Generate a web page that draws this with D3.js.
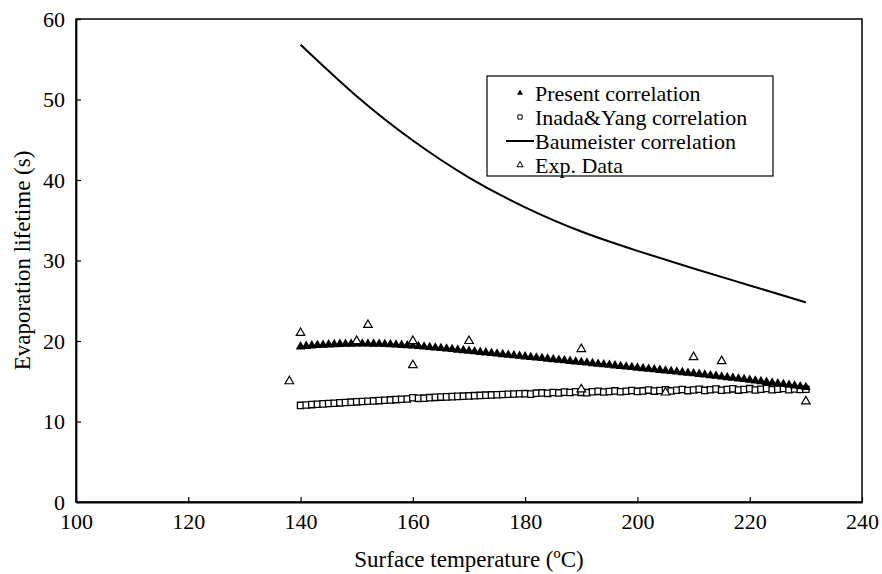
<!DOCTYPE html>
<html>
<head>
<meta charset="utf-8">
<script src="https://cdn.jsdelivr.net/npm/d3@7"></script>
<style>
    body { margin: 0; background: #fff; }
    svg text { font-family: "Liberation Serif", "Times New Roman", serif; fill: #000; }
</style>
</head>
<body>
<svg id="chart" width="882" height="574"></svg>
<script>
// temperatures for the two correlation series: one point per degree, 140..230
const corrStart = 140;
const corrEnd = 230;

const presentValues = [
    19.30, 19.36, 19.42, 19.47, 19.51, 19.55, 19.58, 19.61, 19.63, 19.64,
    19.65, 19.65, 19.65, 19.64, 19.62, 19.60, 19.57, 19.53, 19.49, 19.45,
    19.40, 19.35, 19.29, 19.23, 19.17, 19.10, 19.04, 18.97, 18.90, 18.83,
    18.76, 18.69, 18.62, 18.55, 18.48, 18.41, 18.34, 18.27, 18.20, 18.13,
    18.06, 17.99, 17.92, 17.85, 17.78, 17.71, 17.64, 17.57, 17.50, 17.43,
    17.36, 17.29, 17.22, 17.15, 17.08, 17.01, 16.94, 16.87, 16.80, 16.73,
    16.66, 16.59, 16.52, 16.45, 16.38, 16.31, 16.24, 16.17, 16.10, 16.03,
    15.96, 15.88, 15.80, 15.72, 15.64, 15.56, 15.48, 15.40, 15.32, 15.24,
    15.16, 15.07, 14.98, 14.89, 14.80, 14.71, 14.62, 14.53, 14.44, 14.35,
    14.26
];

const inadaValues = [
    12.00, 12.05, 12.10, 12.14, 12.19, 12.23, 12.27, 12.32, 12.36, 12.40,
    12.44, 12.48, 12.52, 12.56, 12.60, 12.64, 12.68, 12.72, 12.76, 12.80,
    12.95, 12.88, 12.90, 12.96, 13.00, 13.03, 13.06, 13.09, 13.12, 13.15,
    13.18, 13.21, 13.24, 13.27, 13.30, 13.33, 13.36, 13.39, 13.41, 13.44,
    13.46, 13.40, 13.52, 13.55, 13.50, 13.60, 13.55, 13.65, 13.60, 13.70,
    13.62, 13.58, 13.70, 13.75, 13.66, 13.72, 13.80, 13.70, 13.76, 13.85,
    13.74, 13.80, 13.90, 13.78, 13.85, 13.95, 13.80, 13.88, 13.98, 13.84,
    13.92, 14.00, 13.86, 13.95, 14.04, 13.88, 13.96, 14.06, 13.90, 13.98,
    14.08, 13.92, 14.00, 14.10, 13.94, 14.02, 14.10, 13.96, 14.04, 13.98,
    14.00
];

const baumTemps = [140, 150, 160, 170, 180, 190, 200, 210, 220, 230];
const baumValues = [56.8, 50.4, 44.9, 40.3, 36.6, 33.6, 31.2, 29.0, 26.9, 24.8];

const expTemps = [138, 140, 150, 152, 160, 160, 170, 190, 190, 205, 210, 215, 230];
const expValues = [15.0, 21.0, 20.0, 22.0, 20.0, 17.0, 20.0, 19.0, 14.0, 13.6, 18.0, 17.5, 12.5];

const xTicks = [100, 120, 140, 160, 180, 200, 220, 240];
const yTicks = [0, 10, 20, 30, 40, 50, 60];

const legendLabels = ['Present correlation', 'Inada&Yang correlation', 'Baumeister correlation', 'Exp. Data'];

const corrTemps = d3.range(corrStart, corrEnd + 1);

const margin = {left: 76, top: 19, right: 20, bottom: 72};
const width = 882 - margin.left - margin.right;
const height = 574 - margin.top - margin.bottom;

const svg = d3.select('#chart');
const g = svg.append('g').attr('transform', `translate(${margin.left},${margin.top})`);

const x = d3.scaleLinear().domain([100, 240]).range([0, width]);
const y = d3.scaleLinear().domain([0, 60]).range([height, 0]);

// frame (top + right sides have no ticks)
g.append('rect')
    .attr('width', width)
    .attr('height', height)
    .attr('fill', 'none')
    .attr('stroke', '#000')
    .attr('stroke-width', 1.5);

const xAxis = g.append('g')
    .attr('transform', `translate(0,${height})`)
    .call(d3.axisBottom(x).tickValues(xTicks).tickSizeInner(-5).tickSizeOuter(0).tickPadding(12));
const yAxis = g.append('g')
    .call(d3.axisLeft(y).tickValues(yTicks).tickSizeInner(-5).tickSizeOuter(0).tickPadding(11));

[xAxis, yAxis].forEach((ax) => {
    ax.select('.domain').attr('stroke-width', 1.8);
    ax.selectAll('.tick line').attr('stroke-width', 1.2);
    ax.selectAll('.tick text')
        .style('font-family', '"Liberation Serif", "Times New Roman", serif')
        .style('font-size', '22px')
        .attr('fill', '#000');
});
xAxis.selectAll('.tick text').attr('dy', '0.7em');

// Baumeister curve
const line = d3.line()
    .x((d, i) => x(baumTemps[i]))
    .y((d) => y(d))
    .curve(d3.curveNatural);

g.append('path')
    .datum(baumValues)
    .attr('d', line)
    .attr('fill', 'none')
    .attr('stroke', '#000')
    .attr('stroke-width', 2);

const triFilled = d3.symbol().type(d3.symbolTriangle).size(40);
const triOpen = d3.symbol().type(d3.symbolTriangle).size(32);
const square = d3.symbol().type(d3.symbolSquare).size(40);

// Inada & Yang open squares
g.append('g')
    .selectAll('path')
    .data(inadaValues)
    .join('path')
    .attr('d', square)
    .attr('transform', (d, i) => `translate(${x(corrTemps[i])},${y(d)})`)
    .attr('fill', '#fff')
    .attr('stroke', '#000')
    .attr('stroke-width', 1.3);

// present correlation filled triangles
g.append('g')
    .selectAll('path')
    .data(presentValues)
    .join('path')
    .attr('d', triFilled)
    .attr('transform', (d, i) => `translate(${x(corrTemps[i])},${y(d)})`)
    .attr('fill', '#000');

// experimental data open triangles
g.append('g')
    .selectAll('path')
    .data(expValues)
    .join('path')
    .attr('d', triOpen)
    .attr('transform', (d, i) => `translate(${x(expTemps[i])},${y(d)})`)
    .attr('fill', '#fff')
    .attr('stroke', '#000')
    .attr('stroke-width', 1.2);

// legend
const legend = svg.append('g').attr('transform', 'translate(487,76)');
legend.append('rect')
    .attr('width', 286)
    .attr('height', 100)
    .attr('fill', '#fff')
    .attr('stroke', '#000')
    .attr('stroke-width', 1.2);

const rowY = [17, 41, 65, 89];
legendLabels.forEach((label, i) => {
    const row = legend.append('g').attr('transform', `translate(0,${rowY[i]})`);
    if (i === 0) {
        row.append('path').attr('d', d3.symbol().type(d3.symbolTriangle).size(16))
            .attr('transform', 'translate(33,0)').attr('fill', '#000');
    } else if (i === 1) {
        row.append('path').attr('d', d3.symbol().type(d3.symbolSquare).size(18))
            .attr('transform', 'translate(33,0)').attr('fill', '#fff').attr('stroke', '#000');
    } else if (i === 2) {
        row.append('line').attr('x1', 19).attr('x2', 47)
            .attr('stroke', '#000').attr('stroke-width', 2);
    } else {
        row.append('path').attr('d', d3.symbol().type(d3.symbolTriangle).size(16))
            .attr('transform', 'translate(33,0)').attr('fill', '#fff').attr('stroke', '#000');
    }
    row.append('text')
        .attr('x', 48)
        .attr('dy', '0.35em')
        .style('font-size', '22px')
        .text(label);
});

// axis titles
svg.append('text')
    .attr('x', margin.left + width / 2)
    .attr('y', 567)
    .attr('text-anchor', 'middle')
    .style('font-size', '23px')
    .text('Surface temperature (ºC)');

svg.append('text')
    .attr('transform', `translate(30,${margin.top + height / 2}) rotate(-90)`)
    .attr('text-anchor', 'middle')
    .style('font-size', '23px')
    .text('Evaporation lifetime (s)');
</script>
</body>
</html>
